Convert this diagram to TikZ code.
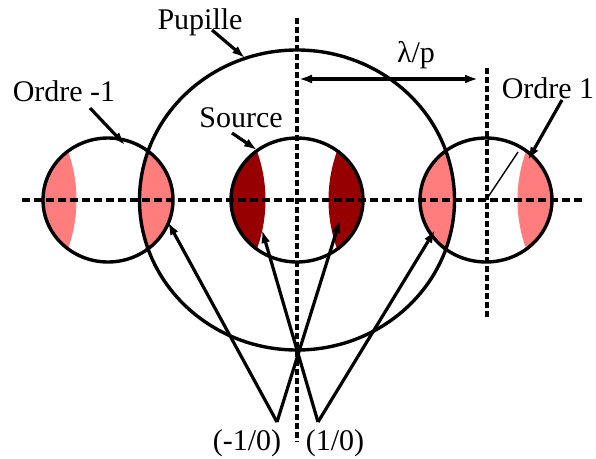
\documentclass[tikz,border=0pt]{standalone}
\usepackage{fontspec}
\setmainfont{Liberation Serif}
\usetikzlibrary{arrows.meta}
\definecolor{lightred}{RGB}{255,125,125}
\definecolor{darkred}{RGB}{150,0,0}
\begin{document}
\begin{tikzpicture}[x=1pt,y=-1pt,
  lbl/.style={anchor=base,inner sep=0pt,font=\fontsize{30}{36}\selectfont},
  ring/.style={line width=3.4pt},
  ptr/.style={line width=3.2pt,-{Latex[length=13pt,width=9pt]}},
  hdash/.style={line width=3.2pt,dash pattern=on 8pt off 4pt},
  vdash/.style={line width=3.2pt,dash pattern=on 6pt off 3pt}]
\useasboundingbox (0,0) rectangle (596,458);
% centres
\coordinate (cL) at (108,200);
\coordinate (cS) at (297,200);
\coordinate (cR) at (486,200);
% fills: each small disc intersected with pupils shifted by +/- lambda/p
\begin{scope}
  \clip (cL) ellipse (65 and 62);
  \fill[lightred] (-81,200) ellipse (157.5 and 150);
  \fill[lightred] (297,200) ellipse (157.5 and 150);
\end{scope}
\begin{scope}
  \clip (cS) ellipse (66 and 62);
  \fill[darkred] (108,200) ellipse (157.5 and 150);
  \fill[darkred] (486,200) ellipse (157.5 and 150);
\end{scope}
\begin{scope}
  \clip (cR) ellipse (66 and 62);
  \fill[lightred] (297,200) ellipse (157.5 and 150);
  \fill[lightred] (675,200) ellipse (157.5 and 150);
\end{scope}
% dashed axes
\coordinate (hA) at (22,200);
\coordinate (hB) at (582,200);
\coordinate (vA) at (297,18);
\coordinate (vB) at (297,442);
\coordinate (wA) at (487,68);
\coordinate (wB) at (487,318);
\draw[hdash] (hA) -- (hB);
\draw[vdash] (vA) -- (vB);
\draw[vdash] (wA) -- (wB);
% circles
\draw[ring] (297,200) ellipse (157.5 and 150);
\draw[ring] (cL) ellipse (65 and 62);
\draw[ring] (cS) ellipse (66 and 62);
\draw[ring] (cR) ellipse (66 and 62);
% radius line in order 1
\coordinate (rE) at (518,152);
\draw[line width=1.4pt] (cR) -- (rE);
% lambda/p
\coordinate (lA) at (299,79);
\coordinate (lB) at (478,79);
\draw[line width=3.2pt,{Latex[length=13pt,width=9pt]}-{Latex[length=13pt,width=9pt]}] (lA) -- (lB);
% labels
\node[lbl] (om) at (64,101) {Ordre -1};
\node[lbl] (pu) at (200,29) {Pupille};
\node[lbl] (so) at (241,127) {Source};
\node[lbl] (op) at (548,98) {Ordre 1};
\node[lbl] (lp) at (416,62) {λ/p};
\node[lbl] (m10) at (247,450) {(-1/0)};
\node[lbl] (p10) at (335,450) {(1/0)};
% pointers
\coordinate (omA) at (90,108);   \coordinate (omB) at (125,145);
\coordinate (puA) at (212,30);   \coordinate (puB) at (245,58);
\coordinate (soA) at (232,133);  \coordinate (soB) at (257,150);
\coordinate (opA) at (562,100);  \coordinate (opB) at (528,160);
\draw[ptr] (omA) -- (omB);
\draw[ptr] (puA) -- (puB);
\draw[ptr] (soA) -- (soB);
\draw[ptr] (opA) -- (opB);
\coordinate (apL) at (277,422);
\coordinate (apR) at (318,422);
\coordinate (t1) at (168,222);
\coordinate (t2) at (340,220);
\coordinate (t3) at (262,230);
\coordinate (t4) at (435,230);
\draw[ptr] (apL) -- (t1);
\draw[ptr] (apL) -- (t2);
\draw[ptr] (apR) -- (t3);
\draw[ptr] (apR) -- (t4);
\end{tikzpicture}
\end{document}
